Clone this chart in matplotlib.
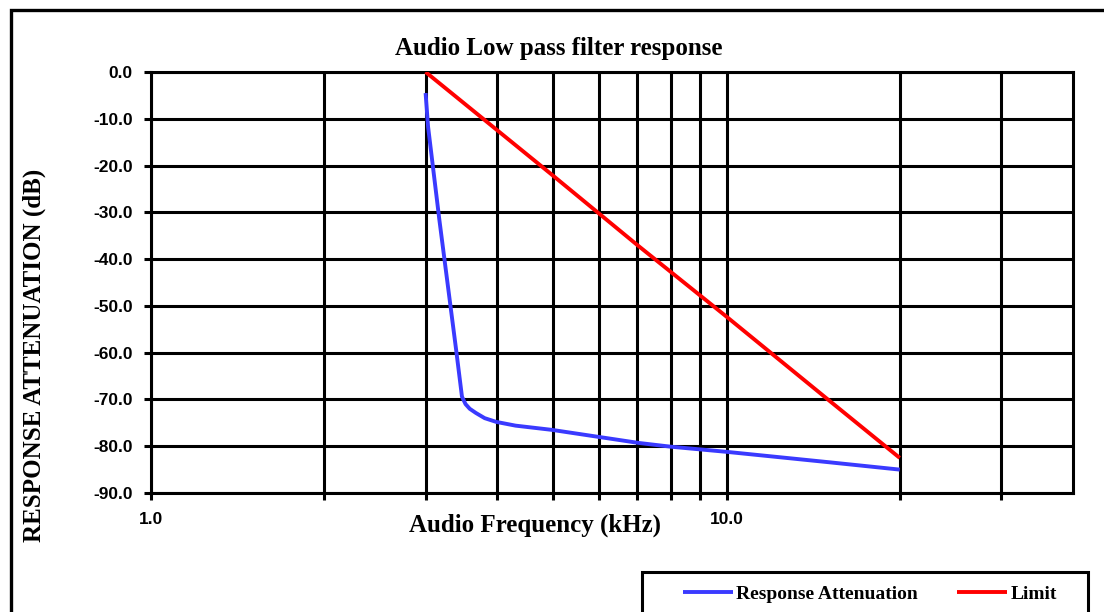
import matplotlib
matplotlib.use("Agg")
import matplotlib.pyplot as plt
from matplotlib.patches import Rectangle
from matplotlib.ticker import FixedLocator, FixedFormatter, NullFormatter

# ---- data ----
resp_freq = [3.0, 3.03, 3.17, 3.39, 3.47, 3.52, 3.58, 3.67, 3.8, 3.98, 4.3, 4.97, 5.99, 7.04, 8.0, 10.0, 15.0, 20.0]
resp_db = [-4.5, -11.7, -31.6, -59.4, -69.4, -71.0, -72.0, -72.9, -74.0, -74.8, -75.6, -76.5, -78.0, -79.3, -80.1, -81.2, -83.4, -85.0]
limit_freq = [3.0, 4.0, 5.0, 7.0, 10.0, 15.0, 20.0]
limit_db = [0.0, -12.5, -22.2, -37.0, -52.3, -70.0, -82.5]
y_ticks = [0, -10, -20, -30, -40, -50, -60, -70, -80, -90]
y_labels = ["0.0", "-10.0", "-20.0", "-30.0", "-40.0", "-50.0", "-60.0", "-70.0", "-80.0", "-90.0"]
x_major = [1.0, 10.0]
x_major_labels = ["1.0", "10.0"]
x_minor = [2, 3, 4, 5, 6, 7, 8, 9, 20, 30]

W, H = 1104, 612
fig = plt.figure(figsize=(W / 100, H / 100), dpi=100)
serif = ["Liberation Serif", "DejaVu Serif"]
sans = ["Liberation Sans", "DejaVu Sans"]

ax = fig.add_axes([151 / W, 1 - 493 / H, (1073 - 151) / W, (493 - 72) / H])
ax.set_xscale("log")
ax.set_xlim(1, 40)
ax.set_ylim(-90, 0)

l1, = ax.plot(resp_freq, resp_db, color="#3a3aff", lw=2.8, solid_capstyle="butt",
              solid_joinstyle="round", zorder=3, label="Response Attenuation")
l2, = ax.plot(limit_freq, limit_db, color="#ff0000", lw=2.8, solid_capstyle="butt",
              zorder=3, label="Limit")

ax.xaxis.set_major_locator(FixedLocator(x_major))
ax.xaxis.set_major_formatter(FixedFormatter(x_major_labels))
ax.xaxis.set_minor_locator(FixedLocator(x_minor))
ax.xaxis.set_minor_formatter(NullFormatter())
ax.yaxis.set_major_locator(FixedLocator(y_ticks))
ax.yaxis.set_major_formatter(FixedFormatter(y_labels))

ax.grid(True, which="both", axis="x", color="black", lw=2.2)
ax.grid(True, which="major", axis="y", color="black", lw=2.2)
ax.set_axisbelow(True)
for s in ax.spines.values():
    s.set_linewidth(2.2)
    s.set_color("black")

ax.tick_params(axis="both", which="both", direction="out", width=2.2, length=5, color="black")
ax.tick_params(axis="x", which="major", pad=9)
ax.tick_params(axis="y", which="major", pad=8)
for lab in ax.get_xticklabels() + ax.get_yticklabels():
    lab.set_fontfamily(sans)
    lab.set_fontweight("bold")
    lab.set_fontsize(12.5)

fig.text(559 / W, 1 - 48 / H, "Audio Low pass filter response", ha="center", va="center",
         family=serif, fontweight="bold", fontsize=18)
fig.text(535 / W, 1 - 525 / H, "Audio Frequency (kHz)", ha="center", va="center",
         family=serif, fontweight="bold", fontsize=18)
fig.text(34 / W, 1 - 355 / H, "RESPONSE ATTENUATION (dB)", ha="center", va="center",
         rotation=90, family=serif, fontweight="bold", fontsize=18)

# figure border (extends past bottom/right like the cropped reference)
fig.patches.append(Rectangle((11 / W, -0.2), 1.2, 1.2 - 10 / H, transform=fig.transFigure,
                             fill=False, edgecolor="black", lw=2.4, zorder=0))

# legend frame (cropped at the bottom as in the reference)
fig.patches.append(Rectangle((642 / W, -0.1), (1088 - 642) / W, 0.1 + 1 - 572 / H,
                             transform=fig.transFigure, fill=False, edgecolor="black",
                             lw=2.2, zorder=0))
leg = fig.legend(handles=[l1, l2], loc="center left",
                 bbox_to_anchor=(683 / W, 1 - 594 / H),
                 ncol=2, frameon=False,
                 prop={"family": serif, "weight": "bold", "size": 14},
                 handlelength=2.55, handletextpad=0.2, borderpad=0, columnspacing=2.0,
                 borderaxespad=0)

fig.savefig("out.png", dpi=100)
